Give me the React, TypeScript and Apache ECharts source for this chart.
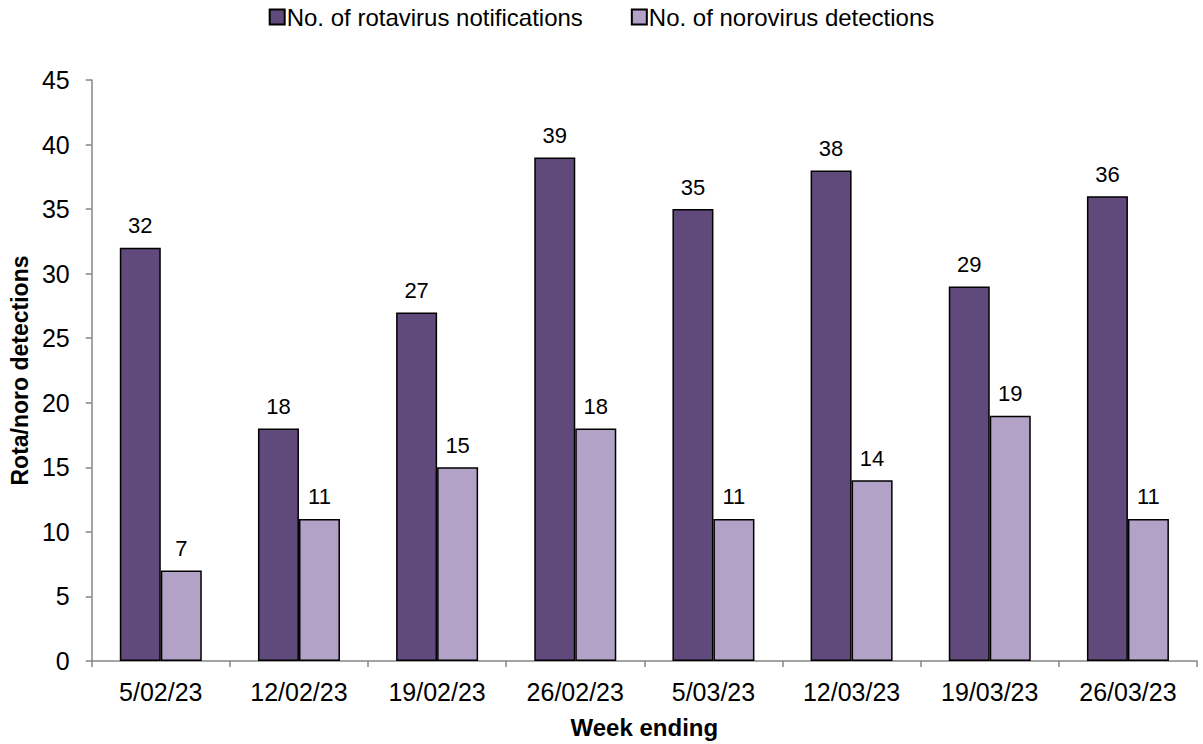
import React, { useEffect, useRef } from "react";
import * as echarts from "echarts";

const categories = ["5/02/23", "12/02/23", "19/02/23", "26/02/23", "5/03/23", "12/03/23", "19/03/23", "26/03/23"];
const rotavirus = [32, 18, 27, 39, 35, 38, 29, 36];
const norovirus = [7, 11, 15, 18, 11, 14, 19, 11];
const seriesNames = ["No. of rotavirus notifications", "No. of norovirus detections"];

const FONT = "Liberation Sans, Arial, sans-serif";

export default function App() {
  const ref = useRef<HTMLDivElement>(null);
  useEffect(() => {
    if (!ref.current) return;
    const chart = echarts.init(ref.current, null, { renderer: "svg" });
    const label = {
      show: true,
      position: "top" as const,
      distance: 11,
      color: "#000",
      fontSize: 22,
      fontFamily: FONT,
    };
    chart.setOption({
      animation: false,
      textStyle: { fontFamily: FONT },
      legend: {
        top: 0,
        left: "center",
        itemWidth: 15,
        itemHeight: 15,
        itemGap: 48,
        icon: "rect",
        textStyle: { fontSize: 24, color: "#000", fontFamily: FONT, padding: [0, 0, 0, -3] },
        data: seriesNames,
      },
      grid: { left: 85, right: 6, top: 80, bottom: 83 },
      xAxis: {
        type: "category",
        data: categories,
        name: "Week ending",
        nameLocation: "middle",
        nameGap: 54,
        nameTextStyle: { fontSize: 24, fontWeight: "bold", color: "#000", fontFamily: FONT },
        axisLine: { lineStyle: { color: "#868686", width: 1.5 } },
        axisTick: { show: true, alignWithLabel: false, length: 6, lineStyle: { color: "#868686", width: 1.5 } },
        axisLabel: { fontSize: 25, color: "#000", margin: 18, fontFamily: FONT },
      },
      yAxis: {
        type: "value",
        min: 0,
        max: 45,
        interval: 5,
        name: "Rota/noro detections",
        nameLocation: "middle",
        nameGap: 52,
        nameTextStyle: { fontSize: 23, fontWeight: "bold", color: "#000", fontFamily: FONT },
        axisLine: { show: true, lineStyle: { color: "#868686", width: 1.5 } },
        axisTick: { show: true, length: 6, lineStyle: { color: "#868686", width: 1.5 } },
        axisLabel: { fontSize: 25, color: "#000", margin: 22, fontFamily: FONT },
        splitLine: { show: false },
      },
      series: [
        {
          name: seriesNames[0],
          type: "bar",
          data: rotavirus,
          barWidth: 41,
          barGap: "0%",
          itemStyle: { color: "#604A7B", borderColor: "#000", borderWidth: 1.5 },
          label,
        },
        {
          name: seriesNames[1],
          type: "bar",
          data: norovirus,
          barWidth: 41,
          barGap: "0%",
          itemStyle: { color: "#B3A2C7", borderColor: "#000", borderWidth: 1.5 },
          label,
        },
      ],
    });
    return () => chart.dispose();
  }, []);
  return (
    <div
      ref={ref}
      style={{ position: "absolute", left: 0, top: 0, width: 1203, height: 744 }}
    />
  );
}
